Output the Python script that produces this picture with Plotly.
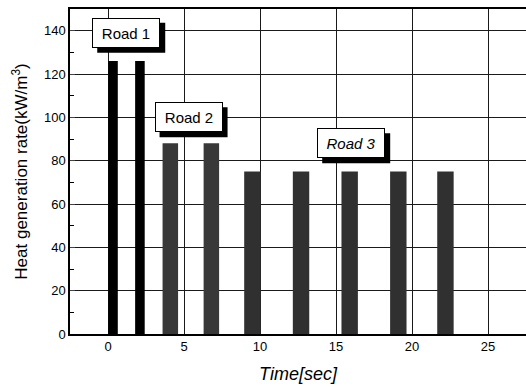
import plotly.graph_objects as go

# Data
road1_time = [0.33, 2.1]
road1_rate = [126, 126]
road2_time = [4.1, 6.8]
road2_rate = [88, 88]
road3_time = [9.5, 12.7, 15.9, 19.1, 22.2]
road3_rate = [75, 75, 75, 75, 75]
x_ticks = [0, 5, 10, 15, 20, 25]
y_ticks = [0, 20, 40, 60, 80, 100, 120, 140]
labels = ["Road 1", "Road 2", "Road 3"]
label_pos = [(1.2, 139), (5.3, 100), (16.0, 88)]

FONT = "Liberation Sans, Arial, sans-serif"

fig = go.Figure()
fig.add_trace(go.Bar(x=road1_time, y=road1_rate, width=[0.63] * len(road1_time),
                     marker=dict(color="#000000", line=dict(width=0))))
fig.add_trace(go.Bar(x=road2_time, y=road2_rate, width=[1.02] * len(road2_time),
                     marker=dict(color="#383838", line=dict(width=0))))
fig.add_trace(go.Bar(x=road3_time, y=road3_rate, width=[1.08] * len(road3_time),
                     marker=dict(color="#303030", line=dict(width=0))))

BOX_W, BOX_H, SH = 68, 30, 5
for i, (txt, (ax_, ay_)) in enumerate(zip(labels, label_pos)):
    italic = (i == 2)
    t = f"<i>{txt}</i>" if italic else txt
    # drop shadow as a pixel-sized shape anchored at the label position
    fig.add_shape(type="rect", xref="x", yref="y", xsizemode="pixel", ysizemode="pixel",
                  xanchor=ax_, yanchor=ay_,
                  x0=-BOX_W / 2 + SH, x1=BOX_W / 2 + SH,
                  y0=-BOX_H / 2 - SH, y1=BOX_H / 2 - SH,
                  fillcolor="#000000", line=dict(width=0), layer="above")
    fig.add_annotation(x=ax_, y=ay_, xref="x", yref="y", text=t, showarrow=False,
                       width=62, height=24, borderpad=2,
                       bgcolor="#ffffff", bordercolor="#000000", borderwidth=1,
                       font=dict(family=FONT, size=15, color="#000000"))

fig.update_layout(
    width=526, height=387,
    margin=dict(l=70, r=0, t=9, b=53),
    paper_bgcolor="white", plot_bgcolor="white",
    showlegend=False, barmode="overlay",
    font=dict(family=FONT, size=13, color="#000000"),
)
fig.update_xaxes(
    range=[-2.5, 27.5], tickvals=x_ticks, ticks="", ticklen=0,
    showgrid=True, gridcolor="#1a1a1a", gridwidth=1,
    showline=True, linecolor="#000000", linewidth=1.5, mirror=True,
    zeroline=False, tickfont=dict(size=13),
    title=dict(text="<i>Time[sec]</i>", font=dict(size=18), standoff=14),
)
fig.update_yaxes(
    range=[0, 150], tickvals=y_ticks, ticks="inside", ticklen=5,
    showgrid=True, gridcolor="#1a1a1a", gridwidth=1,
    showline=True, linecolor="#000000", linewidth=1.5,
    zeroline=False, tickfont=dict(size=13),
    minor=dict(tickvals=[10, 30, 50, 70, 90, 110, 130], ticks="inside", ticklen=4,
               tickcolor="#000000", showgrid=False),
    title=dict(text="Heat generation rate(kW/m<sup>3</sup>)", font=dict(size=17), standoff=12),
)

fig.write_html("out.html")
